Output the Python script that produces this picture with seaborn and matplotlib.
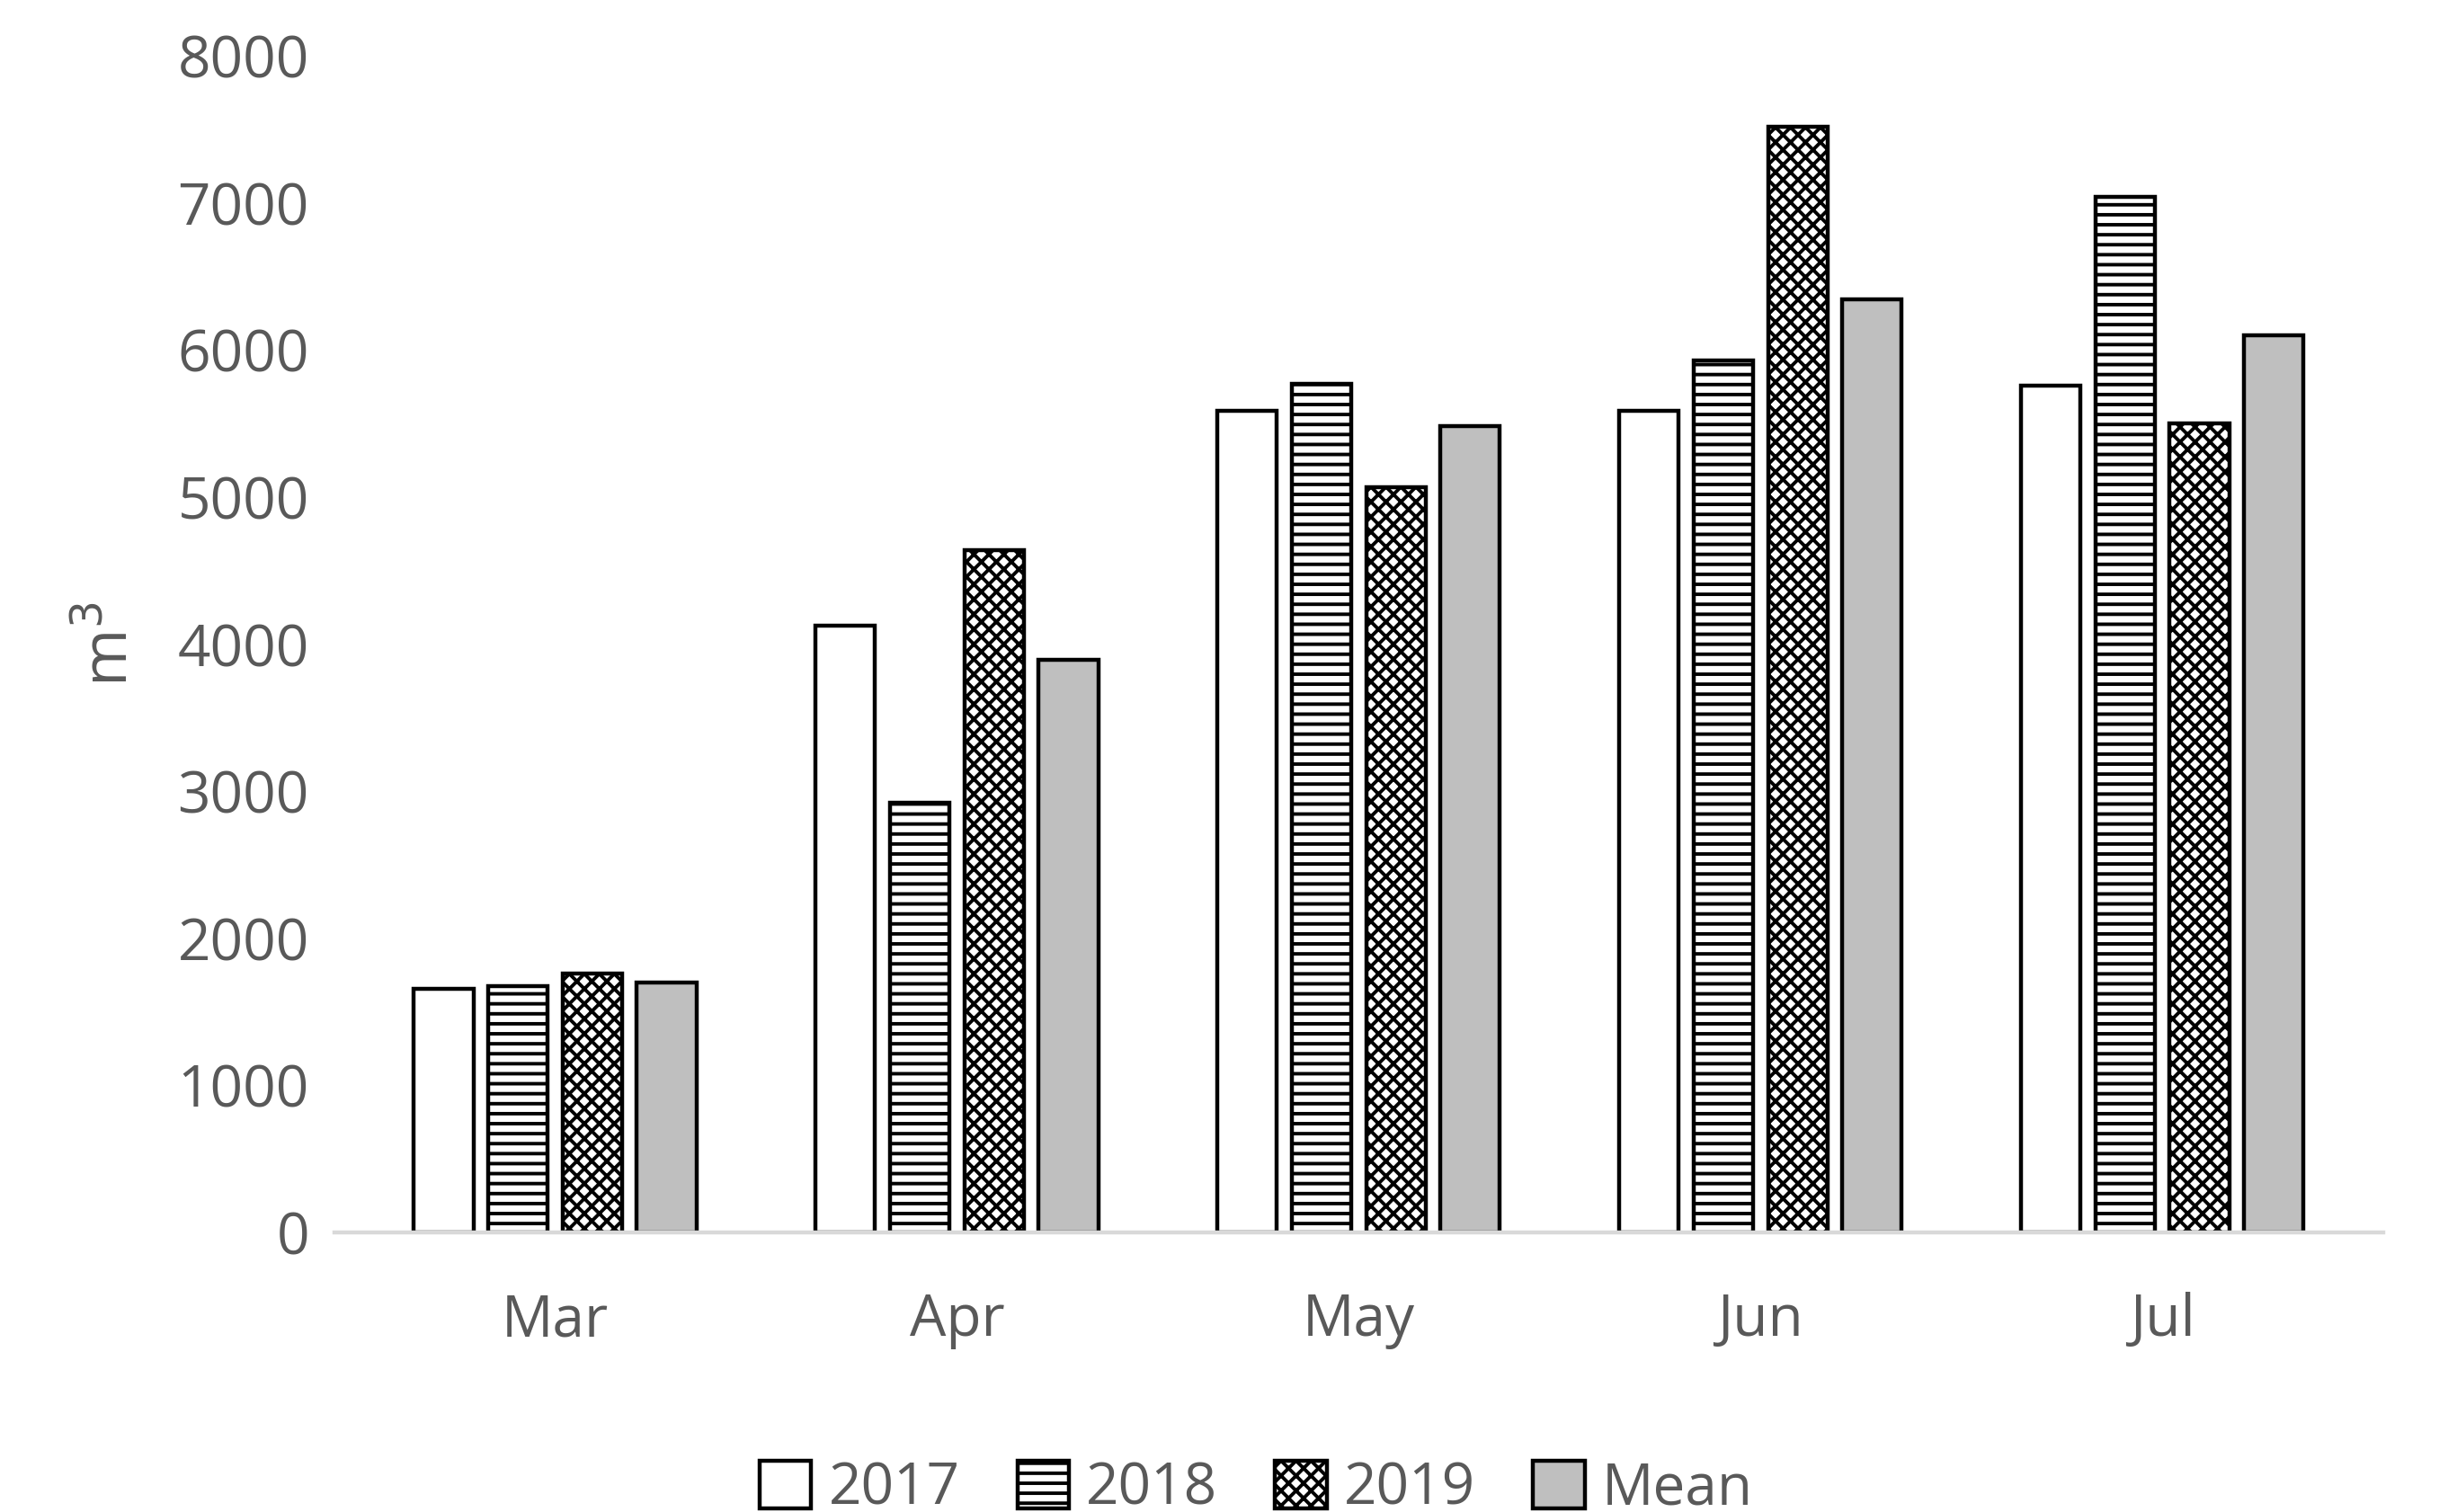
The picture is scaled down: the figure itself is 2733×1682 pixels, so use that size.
import matplotlib
matplotlib.use("Agg")
import matplotlib.pyplot as plt
import seaborn as sns
import pandas as pd

months = ["Mar", "Apr", "May", "Jun", "Jul"]
series = ["2017", "2018", "2019", "Mean"]
v2017 = [1653, 4128, 5589, 5589, 5760]
v2018 = [1675, 2923, 5771, 5931, 7040]
v2019 = [1760, 4640, 5067, 7520, 5504]
vmean = [1696, 3893, 5483, 6347, 6101]

rows = []
for s, vals in zip(series, [v2017, v2018, v2019, vmean]):
    for m, v in zip(months, vals):
        rows.append({"month": m, "series": s, "value": v})
df = pd.DataFrame(rows)

sns.set_style("white")
plt.rcParams["font.family"] = ["Open Sans", "DejaVu Sans"]
plt.rcParams["hatch.color"] = "#a6a6a6"
plt.rcParams["hatch.linewidth"] = 1.4

fig = plt.figure(figsize=(13.665, 8.41), dpi=200)
ax = fig.add_axes([0.136, 0.185, 0.834, 0.778])
sns.barplot(data=df, x="month", y="value", hue="series", order=months,
            hue_order=series, palette=["white", "white", "white", "#bfbfbf"],
            width=0.74, gap=0.2, edgecolor="black", linewidth=1.6, ax=ax,
            saturation=1, errorbar=None)
hatches = [None, "---", "xxxx", None]
for cont, h in zip(ax.containers, hatches):
    for p in cont:
        if h:
            p.set_hatch(h)

ax.set_ylim(0, 8000)
ax.set_yticks(range(0, 8001, 1000))
ax.set_xlim(-0.55, 4.55)
gray = "#595959"
ax.tick_params(axis="both", labelsize=23, colors=gray, length=0, pad=10)
ax.tick_params(axis="x", pad=24)
ax.set_xlabel("")
ax.set_ylabel("m$^3$", fontsize=25, color=gray, labelpad=14)
for s in ["top", "right", "left"]:
    ax.spines[s].set_visible(False)
ax.spines["bottom"].set_color("#d9d9d9")
ax.spines["bottom"].set_linewidth(1.6)

handles, labels = ax.get_legend_handles_labels()
for hnd, h in zip(handles, hatches):
    if h:
        hnd.set_hatch(h)
ax.legend(handles, labels, loc="upper center", bbox_to_anchor=(0.45, -0.15),
          ncol=4, frameon=False, fontsize=23, labelcolor=gray,
          handlelength=0.9, handleheight=0.9, columnspacing=1.0, handletextpad=0.3)

fig.savefig("out.png", dpi=200)
